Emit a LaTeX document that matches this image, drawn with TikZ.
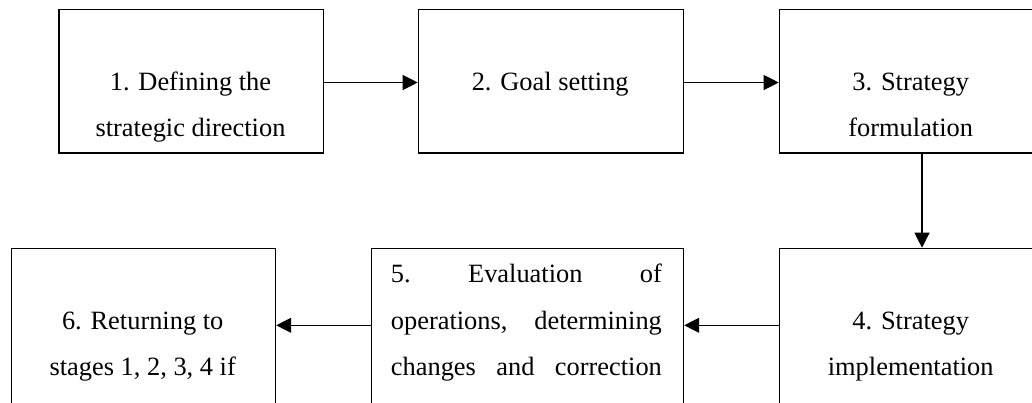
\documentclass[tikz,border=0pt]{standalone}
\usepackage{fontspec}
\setmainfont{Liberation Serif}
\usetikzlibrary{arrows.meta,calc}
\begin{document}
\begin{tikzpicture}[x=1pt,y=-1pt,
  box/.style={draw, line width=1.5pt, minimum width=264.4pt, minimum height=143.3pt, anchor=north west, inner sep=0pt},
  tallbox/.style={box, minimum height=200pt},
  txt/.style={anchor=base, inner sep=0pt, font=\fontsize{26.4}{30}\selectfont},
  ltxt/.style={txt, anchor=base west},
  arr/.style={line width=1.2pt, -{Triangle[length=15pt,width=15pt]}}]
\useasboundingbox (0,0) rectangle (1032,402);
\clip (0,0) rectangle (1032,402);
% top row
\node[box] (b1) at (58.3,8.7) {};
\node[box, minimum width=265pt] (b2) at (417.7,8.7) {};
\node[box] (b3) at (778.7,8.7) {};
% bottom row
\node[tallbox, minimum width=264pt] (b6) at (10.7,247.7) {};
\node[tallbox, minimum width=312pt] (b5) at (370.7,247.7) {};
\node[tallbox] (b4) at (778.7,247.7) {};
% texts
\node[txt] (t1a) at (190.5,90) {1. Defining the};
\node[txt] (t1b) at (190.5,136) {strategic direction};
\node[txt] (t2) at (550.2,90) {2. Goal setting};
\node[txt] (t3a) at (910.7,90) {3. Strategy};
\node[txt] (t3b) at (910.7,136) {formulation};
\node[txt] (t4a) at (910.7,329.3) {4. Strategy};
\node[txt] (t4b) at (910.7,375) {implementation};
\node[ltxt] (t5a) at (390.7,282.7) {\hbox to 271pt{5.\hfil Evaluation\hfil of}};
\node[ltxt] (t5b) at (390.7,329.3) {\hbox to 271pt{operations,\hfil determining}};
\node[ltxt] (t5c) at (390.7,375) {\hbox to 271pt{changes\hfil and\hfil correction}};
\node[txt] (t6a) at (142.7,329.3) {6. Returning to};
\node[txt] (t6b) at (142.7,375) {stages 1, 2, 3, 4 if};
% arrows
\draw[arr] ([yshift=-1.4pt]b1.east) -- ([yshift=-1.4pt]b2.west);
\draw[arr] ([yshift=-1.4pt]b2.east) -- ([yshift=-1.4pt]b3.west);
\draw[arr] ([xshift=143.3pt]b3.south west) -- ([xshift=143.3pt]b4.north west);
\draw[arr] ([yshift=-77.6pt]b4.north west) -- ([yshift=-77.6pt]b5.north east);
\draw[arr] ([yshift=-77.6pt]b5.north west) -- ([yshift=-77.6pt]b6.north east);
\end{tikzpicture}
\end{document}
